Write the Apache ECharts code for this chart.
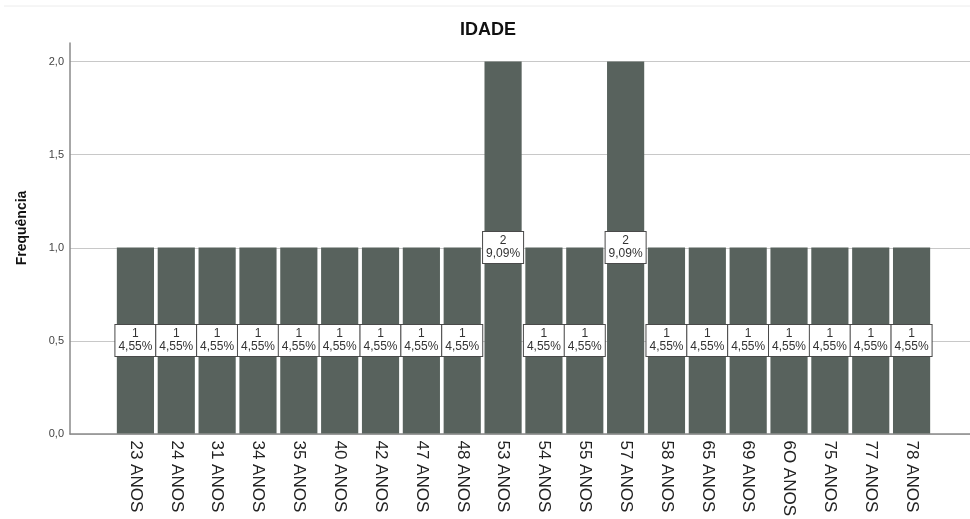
<!DOCTYPE html>
<html>
<head>
<meta charset="utf-8">
<script src="https://cdn.jsdelivr.net/npm/echarts@6/dist/echarts.min.js"></script>
<style>
  html, body { margin: 0; padding: 0; background: #fff; }
  #chart { width: 970px; height: 519px; }
</style>
</head>
<body>
<div id="chart"></div>
<script>
// Age groups and their counts
const categories = ['23 ANOS','24 ANOS','31 ANOS','34 ANOS','35 ANOS','40 ANOS','42 ANOS','47 ANOS','48 ANOS','53 ANOS',
                    '54 ANOS','55 ANOS','57 ANOS','58 ANOS','65 ANOS','69 ANOS','6O ANOS','75 ANOS','77 ANOS','78 ANOS'];
const counts = [1,1,1,1,1,1,1,1,1,2,1,1,2,1,1,1,1,1,1,1];
const percents = ['4,55%','4,55%','4,55%','4,55%','4,55%','4,55%','4,55%','4,55%','4,55%','9,09%',
                  '4,55%','4,55%','9,09%','4,55%','4,55%','4,55%','4,55%','4,55%','4,55%','4,55%'];
const yTicks = [0, 0.5, 1.0, 1.5, 2.0];

const fmt = v => v.toFixed(1).replace('.', ',');
const FONT = 'Liberation Sans, Arial, sans-serif';
const GRID_COLOR = '#c8c8c8';

const chart = echarts.init(document.getElementById('chart'), null, { renderer: 'canvas' });
chart.setOption({
  backgroundColor: '#fff',
  animation: false,
  graphic: [
    { type: 'line', shape: { x1: 4, y1: 6, x2: 970, y2: 6 },
      style: { stroke: '#ececec', lineWidth: 1 } },
    { type: 'text', x: 488, y: 30,
      style: { text: 'IDADE', font: 'bold 18px ' + FONT, fill: '#111',
               textAlign: 'center', textVerticalAlign: 'middle' } },
    { type: 'text', x: 22, y: 228, rotation: Math.PI / 2,
      style: { text: 'Frequência', font: 'bold 14px ' + FONT, fill: '#111',
               textAlign: 'center', textVerticalAlign: 'middle' } }
  ],
  grid: [
    // frame: axis lines and gridlines across the full width
    { left: 70, right: 0, top: 43, bottom: 85 },
    // bars
    { left: 115, right: 38, top: 43, bottom: 85 }
  ],
  xAxis: [
    { type: 'category', gridIndex: 0, data: [''],
      axisLine: { lineStyle: { color: '#8a8a8a', width: 1.5 } },
      axisTick: { show: false }, axisLabel: { show: false } },
    { type: 'category', gridIndex: 1, data: categories,
      axisLine: { show: false }, axisTick: { show: false },
      axisLabel: { rotate: -90, margin: 7, fontFamily: FONT, fontSize: 17, color: '#222', interval: 0 } }
  ],
  yAxis: [
    { type: 'value', gridIndex: 0, min: 0, max: 2.1, interval: 0.5,
      axisLine: { show: true, lineStyle: { color: '#8a8a8a', width: 1.5 } },
      axisTick: { show: false },
      axisLabel: { margin: 6, fontFamily: FONT, fontSize: 11, color: '#444',
        formatter: v => yTicks.includes(v) ? fmt(v) : '' },
      // no gridline at the top edge of the axis
      splitLine: { show: true, lineStyle: { width: 1,
        color: [GRID_COLOR, GRID_COLOR, GRID_COLOR, GRID_COLOR, GRID_COLOR, 'rgba(0,0,0,0)'] } } },
    { type: 'value', gridIndex: 1, min: 0, max: 2.1, interval: 0.5, show: false,
      splitLine: { show: false } }
  ],
  series: [{
    type: 'bar', xAxisIndex: 1, yAxisIndex: 1,
    data: counts,
    barCategoryGap: '9%',
    itemStyle: { color: '#58625d' },
    label: {
      show: true, position: 'inside',
      formatter: p => p.value + '\n' + percents[p.dataIndex],
      fontFamily: FONT, fontSize: 12, lineHeight: 13, color: '#333',
      backgroundColor: '#fff', borderColor: '#4a4a4a', borderWidth: 1,
      padding: [3, 3, 2, 3], align: 'center'
    }
  }]
});
</script>
</body>
</html>
